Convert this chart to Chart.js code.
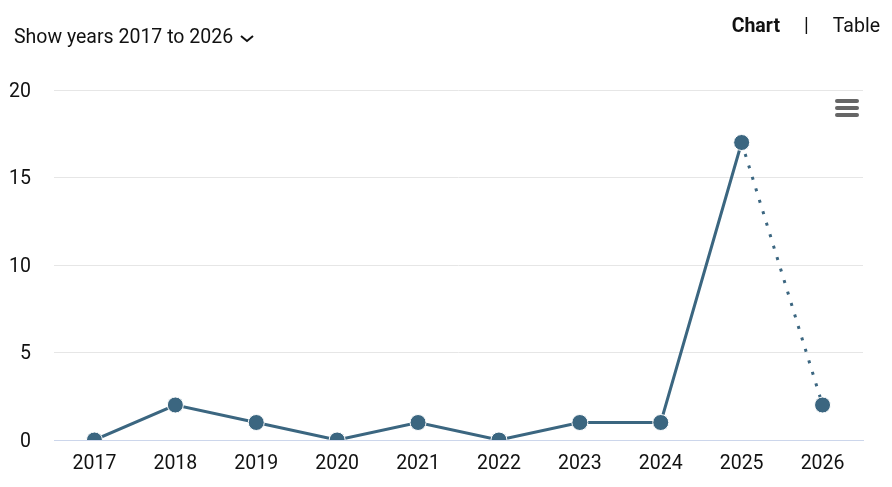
<!DOCTYPE html>
<html>
<head>
<meta charset="utf-8">
<script src="https://cdn.jsdelivr.net/npm/chart.js@4"></script>
<style>
  body { margin: 0; background: #fff; font-family: Roboto, sans-serif; }
  #wrap { position: relative; width: 892px; height: 487px; }
  #range { position: absolute; left: 14px; top: 25px; font-size: 19.5px; color: #111; }
  #range svg { vertical-align: middle; margin-left: 6px; }
  #tabs { position: absolute; right: 12px; top: 14px; font-size: 19.5px; color: #111; }
  #tabs b { font-weight: 700; }
  #tabs .sep { margin: 0 24px; }
  #menu { position: absolute; left: 835px; top: 99px; width: 24px; }
  #menu div { height: 4px; background: #666; border-radius: 2px; margin-bottom: 3px; }
</style>
</head>
<body>
<div id="wrap">
  <div id="range">Show years 2017 to 2026<svg width="16" height="12" viewBox="0 0 16 12"><path d="M2 4 L8 9 L14 4" stroke="#111" stroke-width="2" fill="none"/></svg></div>
  <div id="tabs"><b>Chart</b><span class="sep">|</span>Table</div>
  <div id="menu"><div></div><div></div><div></div></div>
  <canvas id="c" width="892" height="487"></canvas>
</div>
<script>
let years = ['2017', '2018', '2019', '2020', '2021', '2022', '2023', '2024', '2025', '2026']
let counts = [0, 2, 1, 0, 1, 0, 1, 1, 17, 2]
let yTicks = [0, 5, 10, 15, 20]

let lineColor = '#3b6680'

new Chart(document.getElementById('c'), {
  type: 'line',
  data: {
    labels: years,
    datasets: [{
      data: counts,
      borderColor: lineColor,
      backgroundColor: lineColor,
      borderWidth: 3,
      pointRadius: 8,
      pointHoverRadius: 8,
      pointBorderColor: '#fff',
      pointBorderWidth: 1,
      segment: {
        // last year is incomplete, so the final segment is dotted
        borderDash: (ctx) => ctx.p1DataIndex === years.length - 1 ? [3, 9] : undefined,
      },
    }],
  },
  options: {
    responsive: false,
    animation: false,
    layout: { padding: { top: 90, right: 29, left: 0, bottom: 0 } },
    plugins: { legend: { display: false }, tooltip: { enabled: false } },
    scales: {
      x: {
        offset: true,
        grid: { display: false, drawTicks: false },
        border: { color: '#ccd6eb', width: 1 },
        ticks: { color: '#111', font: { family: 'Roboto', size: 19.5 }, padding: 12, maxRotation: 0 },
        afterFit: (s) => { s.height = 47 },
      },
      y: {
        min: 0,
        max: 20,
        afterBuildTicks: (s) => { s.ticks = yTicks.map((v) => ({ value: v })) },
        grid: { color: '#e6e6e6', drawTicks: false },
        border: { display: false },
        ticks: { color: '#111', font: { family: 'Roboto', size: 19.5 }, padding: 23, labelOffset: 2 },
        afterFit: (s) => { s.width = 54 },
      },
    },
  },
})
</script>
</body>
</html>
